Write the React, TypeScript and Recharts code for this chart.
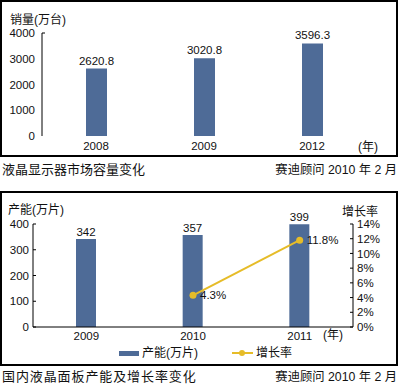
import { BarChart, Bar, ComposedChart, Line, XAxis, YAxis, LabelList } from 'recharts';

const FONT = '"Liberation Sans", Arial, "Noto Sans CJK SC", sans-serif';
const BAR_COLOR = '#4E6B97';
const LINE_COLOR = '#E6BC28';

// top chart: LCD monitor market volume
const salesYears = ['2008', '2009', '2012'];
const salesValues = [2620.8, 3020.8, 3596.3];
const salesTicks = [0, 1000, 2000, 3000, 4000];

// bottom chart: domestic LCD panel capacity and growth
const panelYears = ['2009', '2010', '2011'];
const panelCapacity = [342, 357, 399];
const panelGrowth = [null, 4.3, 11.8];
const capacityTicks = [0, 100, 200, 300, 400];
const growthTicks = [0, 2, 4, 6, 8, 10, 12, 14];

const salesData = salesYears.map((year, i) => ({ year, sales: salesValues[i] }));
const panelData = panelYears.map((year, i) => ({
  year,
  capacity: panelCapacity[i],
  growth: panelGrowth[i],
}));

const tickStyle = { fill: '#111', fontSize: 11.5, fontFamily: FONT };

const SalesTick = (props: any) => {
  const { x, y, payload } = props;
  return (
    <g>
      <text x={x} y={y} dy="0.355em" textAnchor="end" fill="#111" fontSize={11.5} fontFamily={FONT}>
        {payload.value}
      </text>
      {payload.value === 4000 && (
        <line x1={x + 7} x2={x + 10} y1={y} y2={y} stroke="#000" strokeWidth={1} />
      )}
    </g>
  );
};

const text = (left: number | null, top: number, content: string, extra: any = {}) => (
  <span
    style={{
      position: 'absolute',
      ...(left == null ? {} : { left }),
      top,
      lineHeight: '14px',
      fontSize: 12,
      whiteSpace: 'nowrap',
      color: '#111',
      ...extra,
    }}
  >
    {content}
  </span>
);

export default function App() {
  return (
    <div
      style={{
        position: 'absolute',
        left: 0,
        top: 0,
        width: 401,
        height: 389,
        background: '#fff',
        fontFamily: FONT,
        overflow: 'hidden',
      }}
    >
      {/* top chart */}
      <div
        style={{
          position: 'absolute',
          left: 0,
          top: 0,
          width: 398,
          height: 157,
          border: '2px solid #000',
          boxSizing: 'border-box',
        }}
      />
      <div style={{ position: 'absolute', left: 0, top: 0 }}>
        <BarChart
          width={401}
          height={160}
          data={salesData}
          margin={{ top: 33, right: 35, left: 0, bottom: 0 }}
        >
          <XAxis
            dataKey="year"
            height={24}
            axisLine={false}
            tickLine={false}
            tickSize={0}
            tickMargin={6}
            interval={0}
            tick={tickStyle}
          />
          <YAxis
            width={42}
            domain={[0, 4000]}
            ticks={salesTicks}
            interval={0}
            axisLine={{ stroke: '#000' }}
            tickLine={false}
            tickSize={0}
            tickMargin={7}
            tick={<SalesTick />}
          />
          <Bar dataKey="sales" fill={BAR_COLOR} barSize={21} isAnimationActive={false}>
            <LabelList dataKey="sales" position="top" offset={4} style={tickStyle} />
          </Bar>
        </BarChart>
      </div>
      {text(10, 13, '销量(万台)')}
      {text(358, 140, '(年)')}
      {text(2, 163, '液晶显示器市场容量变化', { fontSize: 13 })}
      {text(null, 163, '赛迪顾问 2010 年 2 月', { right: 4, fontSize: 12.3 })}

      {/* bottom chart */}
      <div
        style={{
          position: 'absolute',
          left: 0,
          top: 191,
          width: 398,
          height: 175,
          border: '2px solid #000',
          boxSizing: 'border-box',
        }}
      />
      <div style={{ position: 'absolute', left: 0, top: 190 }}>
        <ComposedChart
          width={401}
          height={160}
          data={panelData}
          margin={{ top: 34, right: 20, left: 0, bottom: 3 }}
        >
          <XAxis
            dataKey="year"
            height={20}
            axisLine={{ stroke: '#000' }}
            tickLine={false}
            tickSize={0}
            tickMargin={5}
            interval={0}
            tick={tickStyle}
          />
          <YAxis
            yAxisId="left"
            width={33}
            domain={[0, 400]}
            ticks={capacityTicks}
            interval={0}
            axisLine={{ stroke: '#000' }}
            tickLine={{ stroke: '#000' }}
            tickSize={-3}
            tickMargin={7}
            tick={tickStyle}
          />
          <YAxis
            yAxisId="right"
            orientation="right"
            width={28}
            domain={[0, 14]}
            ticks={growthTicks}
            interval={0}
            tickFormatter={(v: number) => `${v}%`}
            axisLine={{ stroke: '#000' }}
            tickLine={{ stroke: '#000' }}
            tickSize={-3}
            tickMargin={7}
            tick={tickStyle}
          />
          <Bar
            yAxisId="left"
            dataKey="capacity"
            fill={BAR_COLOR}
            barSize={20}
            isAnimationActive={false}
          >
            <LabelList dataKey="capacity" position="top" offset={3} style={tickStyle} />
          </Bar>
          <Line
            yAxisId="right"
            dataKey="growth"
            stroke={LINE_COLOR}
            strokeWidth={2}
            dot={{ r: 3.5, fill: LINE_COLOR, stroke: LINE_COLOR, strokeWidth: 0 }}
            isAnimationActive={false}
          >
            <LabelList
              dataKey="growth"
              position="right"
              offset={7}
              formatter={(v: any) => (v == null ? '' : `${v}%`)}
              style={tickStyle}
            />
          </Line>
        </ComposedChart>
      </div>
      {text(8, 203, '产能(万片)')}
      {text(342, 205, '增长率')}
      {text(323, 328, '(年)')}

      {/* legend */}
      <div style={{ position: 'absolute', left: 119, top: 351, width: 20, height: 5, background: BAR_COLOR }} />
      {text(142, 346, '产能(万片)')}
      <div style={{ position: 'absolute', left: 232, top: 352, width: 21, height: 2, background: LINE_COLOR }} />
      <div
        style={{
          position: 'absolute',
          left: 239,
          top: 350,
          width: 6,
          height: 6,
          borderRadius: 3,
          background: LINE_COLOR,
        }}
      />
      {text(256, 346, '增长率')}

      {text(2, 370, '国内液晶面板产能及增长率变化', { fontSize: 13, letterSpacing: 0.9 })}
      {text(null, 370, '赛迪顾问 2010 年 2 月', { right: 4, fontSize: 12.3 })}
    </div>
  );
}
